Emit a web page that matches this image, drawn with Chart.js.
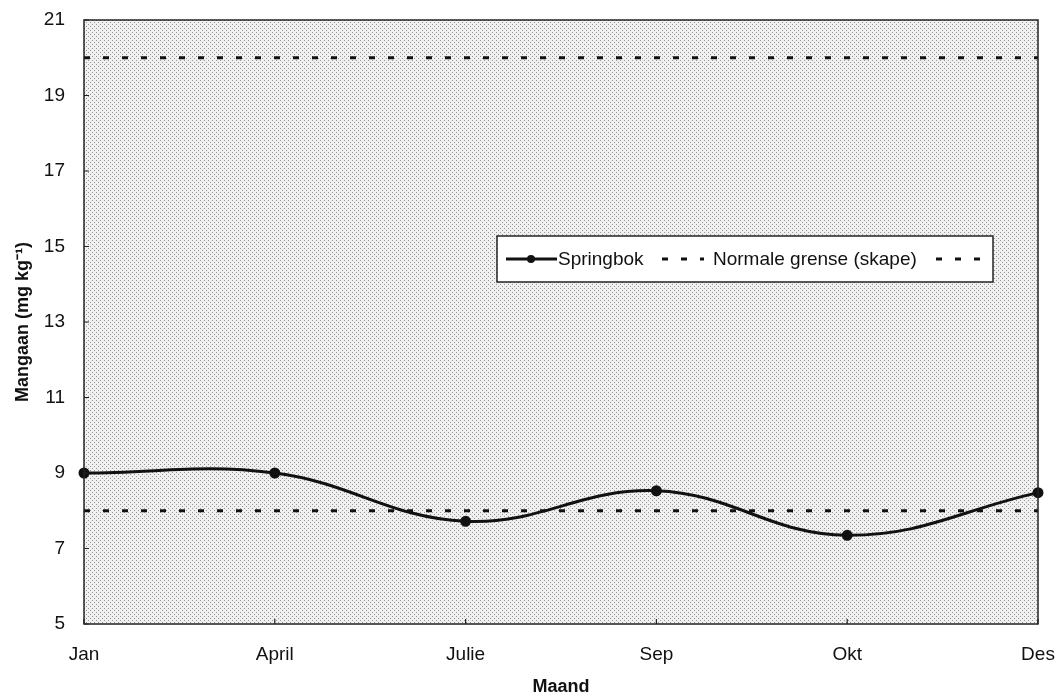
<!DOCTYPE html>
<html>
<head>
<meta charset="utf-8">
<script src="https://cdn.jsdelivr.net/npm/chart.js@4.4.0/dist/chart.umd.min.js"></script>
<style>
  body { margin: 0; background: #fff; }
  #wrap { width: 1056px; height: 698px; }
</style>
</head>
<body>
<div id="wrap"><canvas id="chart" width="1056" height="698"></canvas></div>
<script>
// Data
const months = ['Jan', 'April', 'Julie', 'Sep', 'Okt', 'Des'];
const springbok = [9.0, 9.0, 7.72, 8.53, 7.35, 8.48];
const lowerLimit = [8, 8, 8, 8, 8, 8];
const upperLimit = [20, 20, 20, 20, 20, 20];
const yTicks = [5, 7, 9, 11, 13, 15, 17, 19, 21];

const font = "'Liberation Sans', Arial, sans-serif";

// stippled gray background like the scanned original
function makeStipple(ctx) {
    const c = document.createElement('canvas');
    c.width = 4; c.height = 4;
    const p = c.getContext('2d');
    p.fillStyle = '#f0f0f0';
    p.fillRect(0, 0, 4, 4);
    p.fillStyle = '#969696';
    p.fillRect(0, 0, 1, 1);
    p.fillRect(2, 2, 1, 1);
    return ctx.createPattern(c, 'repeat');
}

// plot area fill, frame, inside ticks and the boxed legend
const framePlugin = {
    id: 'frame',
    beforeDatasetsDraw(chart) {
        const { ctx, chartArea: a } = chart;
        ctx.save();
        ctx.fillStyle = makeStipple(ctx);
        ctx.fillRect(a.left, a.top, a.right - a.left, a.bottom - a.top);
        ctx.restore();
    },
    afterDatasetsDraw(chart) {
        const { ctx, chartArea: a, scales } = chart;
        ctx.save();
        ctx.strokeStyle = '#222';
        ctx.lineWidth = 1.5;
        ctx.strokeRect(a.left, a.top, a.right - a.left, a.bottom - a.top);
        ctx.lineWidth = 1.2;
        ctx.beginPath();
        yTicks.forEach(v => {
            const y = scales.y.getPixelForValue(v);
            ctx.moveTo(a.left, y);
            ctx.lineTo(a.left + 5, y);
        });
        months.forEach((m, i) => {
            const x = scales.x.getPixelForValue(i);
            ctx.moveTo(x, a.bottom);
            ctx.lineTo(x, a.bottom - 5);
        });
        ctx.stroke();

        // legend box
        const lx = 497, ly = 236, lw = 496, lh = 46;
        ctx.fillStyle = '#fff';
        ctx.fillRect(lx, ly, lw, lh);
        ctx.strokeStyle = '#222';
        ctx.lineWidth = 1.5;
        ctx.strokeRect(lx, ly, lw, lh);
        const cy = ly + lh / 2;
        ctx.lineWidth = 3;
        ctx.strokeStyle = '#111';
        ctx.beginPath();
        ctx.moveTo(506, cy); ctx.lineTo(557, cy);
        ctx.stroke();
        ctx.fillStyle = '#111';
        ctx.beginPath();
        ctx.arc(531, cy, 4, 0, Math.PI * 2);
        ctx.fill();
        ctx.setLineDash([6, 13]);
        ctx.beginPath();
        ctx.moveTo(662, cy); ctx.lineTo(704, cy);
        ctx.moveTo(936, cy); ctx.lineTo(980, cy);
        ctx.stroke();
        ctx.setLineDash([]);
        ctx.font = '19px ' + font;
        ctx.textBaseline = 'middle';
        ctx.fillText('Springbok', 558, cy + 1);
        ctx.fillText('Normale grense (skape)', 713, cy + 1);
        ctx.restore();
    }
};

const dashed = {
    borderColor: '#111',
    borderWidth: 3,
    borderDash: [6, 13],
    pointRadius: 0,
    tension: 0,
    fill: false
};

new Chart(document.getElementById('chart'), {
    type: 'line',
    data: {
        labels: months,
        datasets: [
            {
                label: 'Springbok',
                data: springbok,
                borderColor: '#111',
                backgroundColor: '#111',
                borderWidth: 3,
                pointRadius: 4,
                pointBackgroundColor: '#111',
                tension: 0.4,
                fill: false
            },
            Object.assign({ label: 'Normale grense (skape)', data: lowerLimit }, dashed),
            Object.assign({ label: '', data: upperLimit }, dashed)
        ]
    },
    options: {
        responsive: false,
        animation: false,
        layout: { padding: { top: 20, right: 18, left: 0, bottom: 0 } },
        plugins: {
            legend: { display: false },
            tooltip: { enabled: false }
        },
        scales: {
            x: {
                offset: false,
                grid: { display: false, drawTicks: false },
                border: { display: false },
                ticks: {
                    color: '#111',
                    font: { family: font, size: 19 },
                    padding: 19,
                    maxRotation: 0,
                    autoSkip: false
                },
                title: {
                    display: true,
                    text: 'Maand',
                    color: '#111',
                    font: { family: font, size: 18, weight: 'bold' },
                    padding: { top: 10, bottom: 0 }
                },
                afterFit(scale) {
                    scale.height = 74;
                    scale.paddingLeft = 0;
                    scale.paddingRight = 0;
                }
            },
            y: {
                min: 5,
                max: 21,
                grid: { display: false, drawTicks: false },
                border: { display: false },
                afterBuildTicks(scale) {
                    scale.ticks = yTicks.map(v => ({ value: v }));
                },
                ticks: {
                    color: '#111',
                    font: { family: font, size: 19 },
                    padding: 19
                },
                title: {
                    display: true,
                    text: 'Mangaan (mg kg⁻¹)',
                    color: '#111',
                    font: { family: font, size: 18, weight: 'bold' },
                    padding: { top: 12, bottom: 0 }
                },
                afterFit(scale) {
                    scale.width = 84;
                    scale.paddingTop = 0;
                    scale.paddingBottom = 0;
                }
            }
        }
    },
    plugins: [framePlugin]
});
</script>
</body>
</html>
